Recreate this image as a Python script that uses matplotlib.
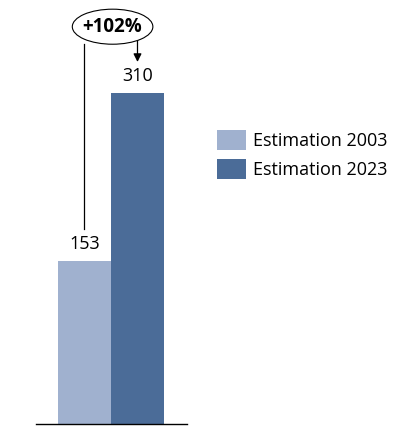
import matplotlib
matplotlib.use("Agg")
import matplotlib.pyplot as plt
from matplotlib.patches import Ellipse

# ---- data ----
series = ["Estimation 2003", "Estimation 2023"]
values = [153, 310]
colors = ["#A0B1CF", "#4B6C98"]
growth_label = "+102%"

plt.rcParams["font.family"] = ["Open Sans", "DejaVu Sans"]

fig = plt.figure(figsize=(3.96, 4.46), dpi=100)
W, H = 396, 446
# axes placed so the baseline sits at y=424px, axis line from x=36 to 187px
ax = fig.add_axes([36 / W, (H - 424) / H, 151 / W, 424 / H])

x = list(range(len(values)))
bars = ax.bar(x, values, width=1.0, color=colors, label=series, zorder=2)

ax.set_xlim(-0.915, 1.934)
ax.set_ylim(0, 397)

for s in ["top", "left", "right"]:
    ax.spines[s].set_visible(False)
ax.spines["bottom"].set_color("black")
ax.spines["bottom"].set_linewidth(1.0)
ax.set_xticks([])
ax.set_yticks([])

# value labels
for xi, v in zip(x, values):
    ax.text(xi, v + 7, str(v), ha="center", va="bottom", fontsize=13, color="black")

# growth annotation: ellipse with label, connector line and arrow
ex, ey = 0.53, 372
ax.add_patch(Ellipse((ex, ey), 1.52, 32.8, facecolor="white", edgecolor="black",
                     linewidth=0.8, clip_on=False, zorder=3))
ax.text(ex, ey, growth_label, ha="center", va="center", fontsize=13.5,
        fontweight="bold", zorder=4)
ax.plot([x[0], x[0]], [ey - 16.4, values[0] + 30], color="black", lw=0.9,
        clip_on=False, zorder=2)
ax.annotate("", xy=(x[1], values[1] + 29), xytext=(x[1], ey - 11),
            arrowprops=dict(arrowstyle="-|>", color="black", lw=0.9,
                            mutation_scale=12, shrinkA=0, shrinkB=0),
            zorder=2)

leg = fig.legend(handles=bars, labels=series, loc="upper left",
                 bbox_to_anchor=(217 / W, 1 - 130 / H), frameon=False,
                 fontsize=13, handlelength=1.6, handleheight=1.3,
                 handletextpad=0.4, labelspacing=0.5, borderpad=0,
                 borderaxespad=0)

fig.savefig("out.png", dpi=100)
